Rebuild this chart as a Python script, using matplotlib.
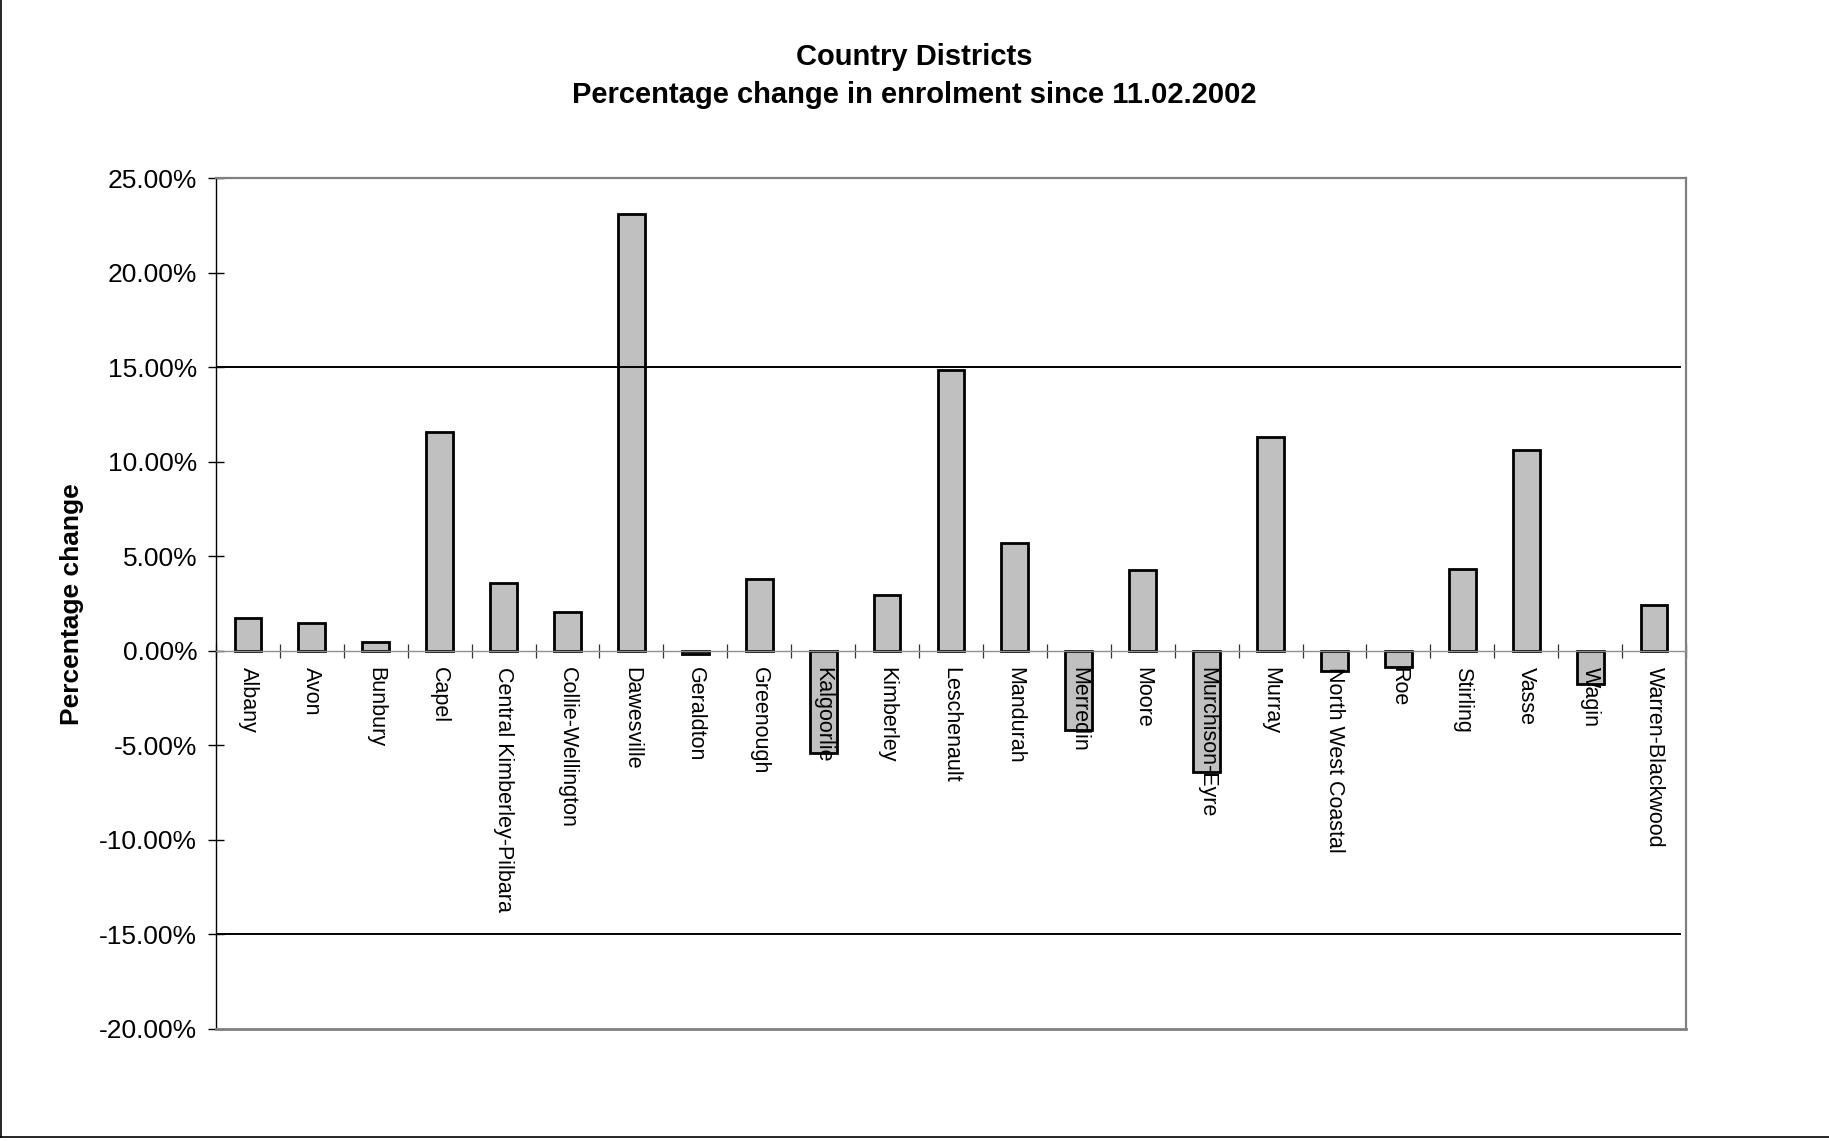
import matplotlib
matplotlib.use("Agg")
import matplotlib.pyplot as plt
from matplotlib.lines import Line2D
from matplotlib.ticker import FuncFormatter

# Data (percentage change since 11.02.2002)
districts = [
    "Albany", "Avon", "Bunbury", "Capel", "Central Kimberley-Pilbara",
    "Collie-Wellington", "Dawesville", "Geraldton", "Greenough", "Kalgoorlie",
    "Kimberley", "Leschenault", "Mandurah", "Merredin", "Moore",
    "Murchison-Eyre", "Murray", "North West Coastal", "Roe", "Stirling",
    "Vasse", "Wagin", "Warren-Blackwood",
]
pct_change = [
    1.77, 1.49, 0.48, 11.60, 3.62,
    2.08, 23.14, -0.15, 3.81, -5.39,
    2.96, 14.87, 5.71, -4.18, 4.28,
    -6.39, 11.34, -1.04, -0.83, 4.35,
    10.65, -1.77, 2.42,
]
y_ticks = [-20, -15, -10, -5, 0, 5, 10, 15, 20, 25]
ref_lines = [15, -15]

plt.rcParams["font.family"] = ["Liberation Sans", "DejaVu Sans"]

fig = plt.figure(figsize=(18.29, 11.41), dpi=100)
ax = fig.add_axes([0.1181, 0.0982, 0.8037, 0.7454])

x = list(range(len(districts)))
ax.bar(x, pct_change, width=0.42, color="#c0c0c0", edgecolor="black",
       linewidth=2.0, zorder=1)

for y in ref_lines:
    ax.axhline(y, xmin=0, xmax=0.996, color="black", lw=1.4, zorder=2)

ax.set_xlim(-0.5, len(districts) - 0.5)
ax.set_ylim(-20, 25)

# frame
for side in ("top", "right"):
    ax.spines[side].set_color("#808080")
    ax.spines[side].set_linewidth(1.6)
ax.spines["left"].set_color("black")
ax.spines["left"].set_linewidth(1.0)
ax.spines["bottom"].set_position(("data", 0))
ax.spines["bottom"].set_color("#909090")
ax.spines["bottom"].set_linewidth(1.0)
ax.axhline(-20, color="#808080", lw=2.0, clip_on=False, zorder=3)

# y axis
ax.set_yticks(y_ticks)
ax.yaxis.set_major_formatter(FuncFormatter(lambda v, p: f"{v:.2f}%"))
ax.tick_params(axis="y", direction="inout", length=11, width=1,
               labelsize=19, pad=8)

# x axis: labels at categories, ticks between them
ax.set_xticks(x)
ax.set_xticklabels(districts, rotation=-90, fontsize=15.5)
ax.tick_params(axis="x", which="major", length=0, pad=11.5)
ax.set_xticks([i - 0.5 for i in range(len(districts) + 1)], minor=True)
ax.tick_params(axis="x", which="minor", direction="inout", length=9.5,
               width=0.9, color="#333333")

fig.suptitle("Country Districts\nPercentage change in enrolment since 11.02.2002",
             x=0.5, y=1 - 76 / 1141, va="center", fontsize=21.0,
             fontweight="bold", linespacing=1.42)
fig.text(72 / 1829, 0.0982 + 0.7454 / 2, "Percentage change", rotation=90,
         ha="center", va="center", fontsize=19, fontweight="bold")

# outer chart border (left and bottom visible)
fig.add_artist(Line2D([0.0006, 0.0006], [0.0035, 1.0],
                      transform=fig.transFigure, color="black", lw=1.2))
fig.add_artist(Line2D([0.0006, 1.0], [0.0035, 0.0035],
                      transform=fig.transFigure, color="black", lw=1.2))

fig.savefig("out.png", dpi=100)
